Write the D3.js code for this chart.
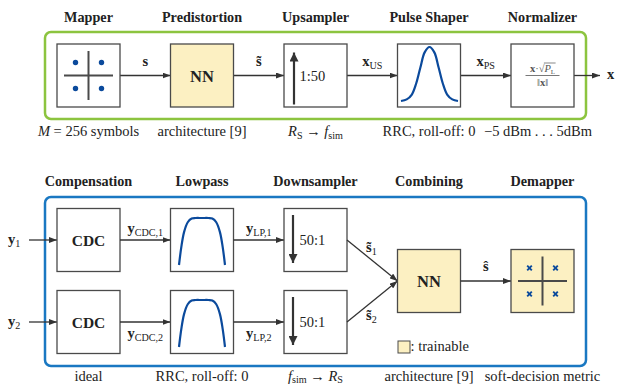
<!DOCTYPE html>
<html><head><meta charset="utf-8">
<script src="https://cdn.jsdelivr.net/npm/d3@7"></script>
<style>
body{margin:0;background:#fff}
text{font-family:"Liberation Serif","Times New Roman",serif;fill:#222}
</style>
</head><body><svg id="c" width="617" height="385"></svg>
<script>
// ---------- content ----------
const topTitles = ["Mapper","Predistortion","Upsampler","Pulse Shaper","Normalizer"];
const bottomTitles = ["Compensation","Lowpass","Downsampler","Combining","Demapper"];
const topNotes = [
  [["M","i"],[" = 256 symbols",""]],
  [["architecture [9]",""]],
  [["R","i"],["S","sub"],[" \u2192 ",""],["f","i"],["sim","sub"]],
  [["RRC, roll-off: 0",""]],
  [["\u22125 dBm . . . 5dBm",""]]
];
const bottomNotes = [
  [["ideal",""]],
  [["RRC, roll-off: 0",""]],
  [["f","i"],["sim","sub"],[" \u2192 ",""],["R","i"],["S","sub"]],
  [["architecture [9]",""]],
  [["soft-decision metric",""]]
];
const topSignals = [[["s","b"]],[["s\u0303","b"]],[["x","b"],["US","sub"]],[["x","b"],["PS","sub"]]];
const outSignal = [["x","b"]];
const inputs = [[["y","b"],["1","sub"]],[["y","b"],["2","sub"]]];
const cdcOut = [[["y","b"],["CDC,1","sub"]],[["y","b"],["CDC,2","sub"]]];
const lpOut = [[["y","b"],["LP,1","sub"]],[["y","b"],["LP,2","sub"]]];
const dsOut = [[["s\u0303","b"],["1","sub"]],[["s\u0303","b"],["2","sub"]]];
const combOut = [["\u015D","b"]];
const nnLabel = "NN", cdcLabel = "CDC";
const rateUp = "1:50", rateDown = "50:1";
const legendText = ": trainable";
const constellation = [[-1,1],[1,1],[-1,-1],[1,-1]];
// icon curves (x in -1..1, y in 0..1)
const pulseShape = [[-1,0.0],[-0.8,0.03],[-0.62,0.12],[-0.47,0.32],[-0.32,0.62],[-0.17,0.9],[0,1],[0.17,0.9],[0.32,0.62],[0.47,0.32],[0.62,0.12],[0.8,0.03],[1,0.0]];
const lowpassShape = [[-1,0],[-0.9,0.38],[-0.78,0.7],[-0.62,0.91],[-0.45,0.99],[-0.28,1],[0,1],[0.28,1],[0.45,0.99],[0.62,0.91],[0.78,0.7],[0.9,0.38],[1,0]];

// ---------- styles ----------
const GREEN="#8cc43f", BLUE="#1a78c2", YELLOW="#fcf0c2", CURVE="#0b4a9c", BOX="#4a4a4a", ARROW="#333";

const svg = d3.select("#c");
const defs = svg.append("defs");
function marker(id, w, h){
  defs.append("marker").attr("id",id).attr("markerUnits","userSpaceOnUse")
    .attr("markerWidth",w).attr("markerHeight",h).attr("refX",w).attr("refY",h/2)
    .attr("orient","auto").append("path").attr("d",`M0,0L${w},${h/2}L0,${h}z`).attr("fill",ARROW);
}
marker("arr",8,6);
marker("big",9,9);

const col = d3.scalePoint().domain(d3.range(5)).range([88.5,542.5]);
const B = 63;
const yTop = 75.5, yRows = [240, 322], yComb = 281;

function rich(g, x, y, segs, size, anchor, sh){
  const d = sh || 3;
  const t = g.append("text").attr("x",x).attr("y",y).attr("text-anchor",anchor||"middle").attr("font-size",size);
  let shift = 0;
  segs.forEach(([s,k])=>{
    const ts = t.append("tspan").text(s);
    if(k==="i") ts.attr("font-style","italic");
    if(k==="b") ts.attr("font-weight","bold");
    if(k==="sub"){ ts.attr("font-size",size*0.7); if(!shift){ts.attr("dy",d); shift=d;} }
    else if(shift){ ts.attr("dy",-shift); shift=0; }
  });
  return t;
}
function box(cx, cy, fill){
  svg.append("rect").attr("x",cx-B/2).attr("y",cy-B/2).attr("width",B).attr("height",B)
    .attr("fill",fill||"#fff").attr("stroke",BOX).attr("stroke-width",1.3);
}
function arrow(x1,y1,x2,y2,m,w){
  svg.append("line").attr("x1",x1).attr("y1",y1).attr("x2",x2).attr("y2",y2)
    .attr("stroke",ARROW).attr("stroke-width",w||1.3).attr("marker-end",`url(#${m||"arr"})`);
}

// ---------- frames ----------
svg.append("rect").attr("x",45).attr("y",32).attr("width",541).attr("height",87).attr("rx",6)
  .attr("fill","none").attr("stroke",GREEN).attr("stroke-width",2.5);
svg.append("rect").attr("x",45).attr("y",197).attr("width",541).attr("height",169).attr("rx",6)
  .attr("fill","none").attr("stroke",BLUE).attr("stroke-width",2.5);

// ---------- titles & notes ----------
topTitles.forEach((t,i)=>svg.append("text").attr("x",col(i)).attr("y",22).attr("text-anchor","middle")
  .attr("font-size",14.2).attr("font-weight","bold").text(t));
bottomTitles.forEach((t,i)=>svg.append("text").attr("x",col(i)).attr("y",186).attr("text-anchor","middle")
  .attr("font-size",14.2).attr("font-weight","bold").text(t));
topNotes.forEach((n,i)=>rich(svg, i===4?538:col(i), 136, n, 14.5, "middle", 2.5));
bottomNotes.forEach((n,i)=>rich(svg, col(i), 380.5, n, 14.5, "middle", 2.3));

// ---------- top chain ----------
for(let i=0;i<4;i++){
  arrow(col(i)+B/2, yTop, col(i+1)-B/2, yTop);
  rich(svg, (col(i)+col(i+1))/2, 66, topSignals[i], 14.5);
}
arrow(col(4)+B/2, yTop, 600, yTop);
rich(svg, 607, 79, outSignal, 14.5, "start");

// mapper
box(col(0), yTop);
svg.append("line").attr("x1",col(0)-24.5).attr("x2",col(0)+24.5).attr("y1",yTop).attr("y2",yTop).attr("stroke",BOX).attr("stroke-width",2);
svg.append("line").attr("x1",col(0)).attr("x2",col(0)).attr("y1",yTop-24.5).attr("y2",yTop+24.5).attr("stroke",BOX).attr("stroke-width",2);
svg.selectAll(".dot").data(constellation).join("circle").attr("class","dot")
  .attr("cx",d=>col(0)+d[0]*13).attr("cy",d=>yTop-d[1]*13).attr("r",2.7).attr("fill",CURVE);

// predistortion NN
box(col(1), yTop, YELLOW);
svg.append("text").attr("x",col(1)).attr("y",yTop+6).attr("text-anchor","middle").attr("font-size",16.5).attr("font-weight","bold").text(nnLabel);

// upsampler
box(col(2), yTop);
arrow(col(2)-21.5, yTop+29, col(2)-21.5, yTop-23, "big", 2.2);
svg.append("text").attr("x",col(2)-16).attr("y",yTop+5).attr("font-size",14.5).text(rateUp);

// pulse shaper
box(col(3), yTop);
{
  const xs = d3.scaleLinear().domain([-1,1]).range([col(3)-28, col(3)+29]);
  const ys = d3.scaleLinear().domain([0,1]).range([yTop+25.5, yTop-28.5]);
  svg.append("path").attr("d", d3.line().x(d=>xs(d[0])).y(d=>ys(d[1])).curve(d3.curveCatmullRom)(pulseShape))
    .attr("fill","none").attr("stroke",CURVE).attr("stroke-width",2.2);
}

// normalizer
box(col(4), yTop);
{
  const cx = col(4);
  const num = svg.append("text").attr("x",cx).attr("y",yTop-3.5).attr("text-anchor","middle").attr("font-size",10.5).style("fill","#555");
  num.append("tspan").attr("font-weight","bold").text("x");
  num.append("tspan").text("\u00B7\u221A");
  num.append("tspan").attr("font-style","italic").text("P");
  num.append("tspan").attr("font-size",7).attr("dy",1.5).text("L");
  const n = num.node();
  const s = n.getStartPositionOfChar(3).x, e = n.getEndPositionOfChar(4).x;
  svg.append("line").attr("x1",s-0.5).attr("x2",e+0.5).attr("y1",yTop-12.5).attr("y2",yTop-12.5).attr("stroke","#555").attr("stroke-width",0.7);
  svg.append("line").attr("x1",cx-17).attr("x2",cx+17).attr("y1",yTop).attr("y2",yTop).attr("stroke","#555").attr("stroke-width",0.8);
  const den = svg.append("text").attr("x",cx).attr("y",yTop+10).attr("text-anchor","middle").attr("font-size",10.5).style("fill","#555");
  den.append("tspan").text("\u2016");
  den.append("tspan").attr("font-weight","bold").text("x");
  den.append("tspan").text("\u2016");
}

// ---------- bottom chain ----------
const lpX = d3.scaleLinear().domain([-1,1]).range([col(1)-23, col(1)+23]);
yRows.forEach((y,r)=>{
  rich(svg, 8, y+4, inputs[r], 14.5, "start");
  arrow(29, y, col(0)-B/2, y);
  box(col(0), y);
  svg.append("text").attr("x",col(0)).attr("y",y+5.5).attr("text-anchor","middle").attr("font-size",15.5).attr("font-weight","bold").text(cdcLabel);
  arrow(col(0)+B/2, y, col(1)-B/2, y);
  rich(svg, (col(0)+col(1))/2, r===0 ? y-7 : y+16, cdcOut[r], 14.5);
  box(col(1), y);
  const lpY = d3.scaleLinear().domain([0,1]).range([y+25, y-22]);
  svg.append("path").attr("d", d3.line().x(d=>lpX(d[0])).y(d=>lpY(d[1])).curve(d3.curveCatmullRom)(lowpassShape))
    .attr("fill","none").attr("stroke",CURVE).attr("stroke-width",2.2);
  arrow(col(1)+B/2, y, col(2)-B/2, y);
  rich(svg, (col(1)+col(2))/2, r===0 ? y-7 : y+16, lpOut[r], 14.5);
  box(col(2), y);
  arrow(col(2)-22.5, y-25, col(2)-22.5, y+23, "big", 2.2);
  svg.append("text").attr("x",col(2)-16).attr("y",y+5).attr("font-size",14.5).text(rateDown);
  arrow(col(2)+B/2, y, col(3)-B/2, yComb);
  rich(svg, 366, r===0 ? 251.5 : 319.5, dsOut[r], 14.5, "start");
});

// combining NN
box(col(3), yComb, YELLOW);
svg.append("text").attr("x",col(3)).attr("y",yComb+6).attr("text-anchor","middle").attr("font-size",16.5).attr("font-weight","bold").text(nnLabel);
arrow(col(3)+B/2, yComb, col(4)-B/2, yComb);
rich(svg, (col(3)+col(4))/2, 271, combOut, 14.5);

// demapper
box(col(4), yComb, YELLOW);
svg.append("line").attr("x1",col(4)-24.5).attr("x2",col(4)+24.5).attr("y1",yComb).attr("y2",yComb).attr("stroke",BOX).attr("stroke-width",2);
svg.append("line").attr("x1",col(4)).attr("x2",col(4)).attr("y1",yComb-24.5).attr("y2",yComb+24.5).attr("stroke",BOX).attr("stroke-width",2);
svg.selectAll(".cross").data(constellation).join("path").attr("class","cross")
  .attr("d",d=>{const x=col(4)+d[0]*13, y=yComb-d[1]*13, k=2.3; return `M${x-k},${y-k}L${x+k},${y+k}M${x-k},${y+k}L${x+k},${y-k}`;})
  .attr("stroke",CURVE).attr("stroke-width",1.9);

// legend
svg.append("rect").attr("x",398).attr("y",341).attr("width",12).attr("height",12).attr("fill",YELLOW).attr("stroke",BOX).attr("stroke-width",1);
svg.append("text").attr("x",410.5).attr("y",351).attr("font-size",14.5).text(legendText);
</script>
</body></html>
